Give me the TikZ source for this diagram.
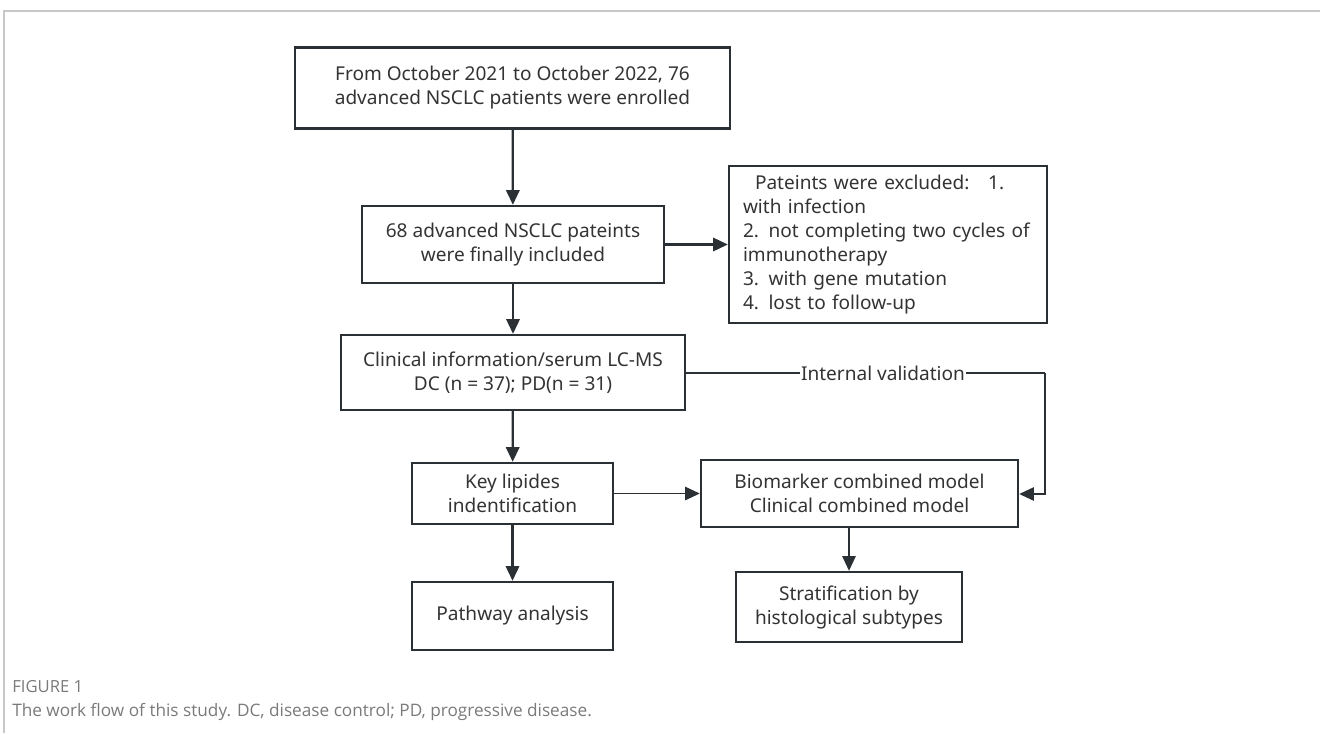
\documentclass[tikz,border=0pt]{standalone}
\usepackage{fontspec}
\setmainfont{Noto Sans}
\newfontfamily\capfont{Open Sans}
\usetikzlibrary{arrows.meta,calc}
\definecolor{boxline}{HTML}{2B3035}
\definecolor{txt}{HTML}{333333}
\definecolor{capgray}{HTML}{7A7A7A}
\definecolor{framegray}{HTML}{C8C8C8}
\begin{document}
\begin{tikzpicture}[x=0.75pt,y=-0.75pt,
  stepbox/.style={draw=boxline,line width=1.8pt,text=txt,align=center,inner sep=0pt,font=\fontsize{14.3}{18}\selectfont},
  flow/.style={draw=boxline,line width=1.7pt,-{Triangle[length=11pt,width=10pt]}},
  thinflow/.style={draw=boxline,line width=1.2pt,-{Triangle[length=11pt,width=10pt]}},
  thinline/.style={draw=boxline,line width=1.2pt}]
\useasboundingbox (0,0) rectangle (1320,733);
% frame
\draw[framegray,line width=1.1pt] (4,733) -- (4,11) -- (1320,11);
% boxes
\node[stepbox,minimum width=435*0.75pt,minimum height=81*0.75pt] (b1) at (512.5,88)
  {From October 2021 to October 2022, 76\\advanced NSCLC patients were enrolled};
\node[stepbox,minimum width=302*0.75pt,minimum height=77*0.75pt] (b2) at (513,244.5)
  {68 advanced NSCLC pateints\\were finally included};
\node[stepbox,align=left,text width=290*0.75pt,inner xsep=14*0.75pt,minimum height=157*0.75pt] (ex) at (888,244.5)
  {\hspace*{9pt}Pateints were excluded:\hspace*{14pt}1.\\with infection\\2. not completing two cycles of\\immunotherapy\\3. with gene mutation\\4. lost to follow-up};
\node[stepbox,minimum width=344*0.75pt,minimum height=75*0.75pt] (b3) at (513,372.5)
  {Clinical information/serum LC-MS\\DC (n = 37); PD(n = 31)};
\node[stepbox,minimum width=201*0.75pt,minimum height=61*0.75pt] (b4) at (512.5,493.5)
  {Key lipides\\indentification};
\node[stepbox,minimum width=317*0.75pt,minimum height=67*0.75pt] (b5) at (859.5,493.5)
  {Biomarker combined model\\Clinical combined model};
\node[stepbox,minimum width=201*0.75pt,minimum height=68*0.75pt] (b6) at (512.5,616)
  {Pathway analysis};
\node[stepbox,minimum width=226*0.75pt,minimum height=70*0.75pt] (b7) at (849,607)
  {Stratification by\\histological subtypes};
% connectors
\draw[flow] (b1) -- (b2);
\draw[flow] (b2) -- (ex);
\draw[flow] (b2) -- (b3);
\draw[flow] (b3) -- (b4);
\draw[flow] (b4) -- (b6);
\draw[thinflow] (b4) -- (b5);
\draw[thinflow] (b5.south -| b7.north) -- (b7.north);
\coordinate (ivtop) at (1045,373);
\coordinate (ivbot) at (1045,494);
\draw[thinline] (b3.east |- ivtop) -- (ivtop);
\draw[thinflow] (ivtop) -- (ivbot) -- (b5.east |- ivbot);
\node[fill=white,text=txt,inner xsep=1pt,inner ysep=2pt,font=\fontsize{14.3}{18}\selectfont] (iv) at (883,373) {Internal validation};
% caption
\node[anchor=base west,inner sep=0pt,text=capgray,font=\capfont\fontsize{12.5}{14}\selectfont] (fig) at (12,692) {FIGURE 1};
\node[anchor=base west,inner sep=0pt,text=capgray,font=\capfont\fontsize{12.9}{15}\selectfont] (cap) at (12,716) {The work flow of this study. DC, disease control; PD, progressive disease.};
\end{tikzpicture}
\end{document}
